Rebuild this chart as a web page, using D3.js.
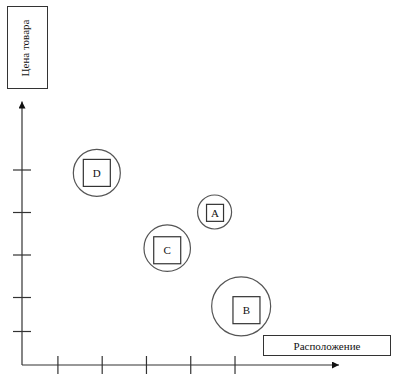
<!DOCTYPE html>
<html><head><meta charset="utf-8">
<script src="https://cdn.jsdelivr.net/npm/d3@7/dist/d3.min.js"></script>
<style>body{margin:0;background:#fff;} svg{display:block;}</style>
</head><body>
<svg id="c" width="395" height="380"></svg>
<script>
// Data
const labels = ["D", "A", "C", "B"];
const placeValues = [1.69, 4.35, 3.28, 4.95];   // circle centre, x (Расположение)
const priceValues = [4.52, 3.6, 2.75, 1.38];    // circle centre, y (Цена товара)
const marketSize = [4.7, 3.4, 4.65, 5.9];       // circle radius units
const productPlace = [1.69, 4.36, 3.28, 5.07];  // square centre x
const productPrice = [4.52, 3.58, 2.70, 1.29];  // square centre y
const productSize = [2.7, 1.7, 2.7, 2.7];       // square side units
const xTicks = [0.8, 1.8, 2.8, 3.8, 4.8];
const yTicks = [0.8, 1.6, 2.6, 3.6, 4.6];
const xTitle = "Расположение";
const yTitle = "Цена товара";

const svg = d3.select("#c");
const x = d3.scaleLinear().domain([0, 7.16]).range([22, 339]);
const y = d3.scaleLinear().domain([0, 6.2]).range([365, 101.5]);
const r = d3.scaleLinear().domain([0, 1]).range([0, 5]);
const s = d3.scaleLinear().domain([0, 1]).range([0, 10]);
const ink = "#333";
const font = "'Liberation Serif','Times New Roman',serif";

svg.append("defs").append("marker")
  .attr("id", "arr").attr("viewBox", "0 0 10 10").attr("refX", 10).attr("refY", 5)
  .attr("markerWidth", 8).attr("markerHeight", 7).attr("markerUnits", "userSpaceOnUse")
  .attr("orient", "auto")
  .append("path").attr("d", "M0,0L10,5L0,10Z").attr("fill", "#111");

// Axis lines
svg.append("line").attr("x1", x(0)).attr("y1", y(0)).attr("x2", x(0)).attr("y2", y(6.2))
  .attr("stroke", ink).attr("stroke-width", 1.2).attr("marker-end", "url(#arr)");
svg.append("line").attr("x1", x(0)).attr("y1", y(0)).attr("x2", x(7.16)).attr("y2", y(0))
  .attr("stroke", ink).attr("stroke-width", 1.2).attr("marker-end", "url(#arr)");

// Ticks crossing axes
const ya = svg.append("g").attr("transform", `translate(${x(0) + 9},0)`)
  .call(d3.axisLeft(y).tickValues(yTicks).tickSize(18).tickFormat(""));
const xa = svg.append("g").attr("transform", `translate(0,${y(0) - 9})`)
  .call(d3.axisBottom(x).tickValues(xTicks).tickSize(18).tickFormat(""));
[ya, xa].forEach(g => {
  g.select(".domain").remove();
  g.selectAll(".tick line").attr("stroke", ink).attr("stroke-width", 1.2);
});

// Bubbles
const data = labels.map((l, i) => ({l, cx: placeValues[i], cy: priceValues[i], cr: marketSize[i],
  sx: productPlace[i], sy: productPrice[i], ss: productSize[i]}));
const g = svg.append("g");
g.selectAll("circle").data(data).join("circle")
  .attr("cx", d => x(d.cx)).attr("cy", d => y(d.cy)).attr("r", d => r(d.cr))
  .attr("fill", "none").attr("stroke", "#555").attr("stroke-width", 1.2);
g.selectAll("rect").data(data).join("rect")
  .attr("x", d => x(d.sx) - s(d.ss) / 2).attr("y", d => y(d.sy) - s(d.ss) / 2)
  .attr("width", d => s(d.ss)).attr("height", d => s(d.ss))
  .attr("fill", "none").attr("stroke", ink).attr("stroke-width", 1.2);
g.selectAll("text").data(data).join("text")
  .attr("x", d => x(d.sx)).attr("y", d => y(d.sy))
  .attr("text-anchor", "middle").attr("dominant-baseline", "central")
  .attr("font-family", font).attr("font-size", 11).attr("fill", "#111")
  .text(d => d.l);

// Title boxes
svg.append("rect").attr("x", 7.5).attr("y", 6.5).attr("width", 40).attr("height", 82)
  .attr("fill", "#fff").attr("stroke", ink).attr("stroke-width", 1);
svg.append("text").attr("transform", "translate(25,48) rotate(-90)")
  .attr("text-anchor", "middle").attr("dominant-baseline", "central")
  .attr("font-family", font).attr("font-size", 11).attr("fill", "#111").text(yTitle);

svg.append("rect").attr("x", 263.5).attr("y", 335.5).attr("width", 127).attr("height", 20)
  .attr("fill", "#fff").attr("stroke", ink).attr("stroke-width", 1);
svg.append("text").attr("x", 327).attr("y", 346)
  .attr("text-anchor", "middle").attr("dominant-baseline", "central")
  .attr("font-family", font).attr("font-size", 11).attr("fill", "#111").text(xTitle);
</script>
</body></html>
